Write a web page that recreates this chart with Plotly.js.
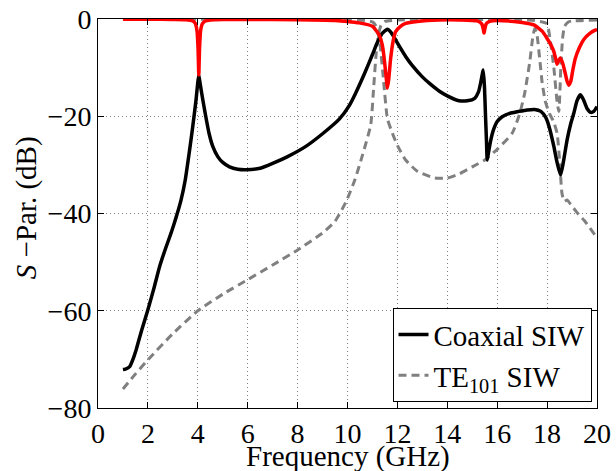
<!DOCTYPE html>
<html>
<head>
<meta charset="utf-8">
<script src="https://cdn.plot.ly/plotly-3.0.1.min.js"></script>
<style>html,body{margin:0;padding:0;background:#fff;}#chart{width:616px;height:471px;}</style>
</head>
<body>
<div id="chart"></div>
<script>
// Coaxial SIW reflection (black)
const coaxS11X = [1.0,1.1,1.27,1.4,1.53,1.75,2.0,2.25,2.47,2.7,2.93,3.13,3.33,3.5,3.67,3.8,3.93,3.99,4.04,4.1,4.2,4.3,4.45,4.6,4.8,5.0,5.27,5.6,5.93,6.5,7.0,7.6,8.33,9.0,9.67,10.07,10.33,10.7,11.0,11.2,11.4,11.6,11.75,11.93,12.1,12.33,12.6,13.0,13.3,13.67,14.0,14.47,14.8,15.1,15.25,15.35,15.44,15.49,15.53,15.57,15.6,15.65,15.73,15.85,16.0,16.2,16.5,16.87,17.2,17.5,17.75,17.95,18.1,18.27,18.4,18.54,18.65,18.8,18.95,19.07,19.2,19.33,19.45,19.6,19.75,19.87,20.0];
const coaxS11Y = [-72.1,-72.0,-71.5,-70.0,-68.0,-64.0,-59.8,-55.2,-50.9,-47.3,-44.0,-40.8,-37.2,-33.0,-27.0,-22.0,-16.6,-13.5,-11.5,-13.5,-16.6,-19.5,-23.5,-26.2,-28.3,-29.5,-30.4,-30.9,-31.0,-30.7,-29.7,-28.3,-26.2,-23.6,-20.6,-17.8,-15.2,-11.0,-7.3,-4.8,-2.9,-2.1,-2.8,-4.3,-5.8,-7.7,-9.6,-11.9,-13.3,-14.8,-15.8,-16.8,-16.8,-16.3,-15.0,-12.8,-10.5,-14.0,-19.7,-25.0,-29.0,-27.5,-25.2,-22.8,-21.1,-20.1,-19.4,-19.0,-18.7,-18.6,-19.0,-20.3,-22.5,-26.2,-29.5,-32.1,-29.5,-24.9,-21.5,-19.4,-16.8,-15.6,-16.5,-18.4,-19.2,-19.0,-18.0];

// Coaxial SIW transmission (red)
const coaxS21X = [1.0,2.0,3.0,3.5,3.8,3.9,3.97,4.01,4.04,4.07,4.11,4.18,4.3,4.5,5.0,6.0,8.0,9.5,10.0,10.47,11.0,11.27,11.4,11.47,11.55,11.6,11.65,11.73,11.83,11.93,12.1,12.33,12.8,13.67,14.5,15.2,15.38,15.44,15.47,15.5,15.56,15.7,16.0,16.67,17.0,17.47,17.8,18.0,18.15,18.27,18.35,18.4,18.47,18.53,18.62,18.72,18.8,18.87,18.95,19.03,19.13,19.3,19.47,19.7,19.93,20.0];
const coaxS21Y = [-0.05,-0.05,-0.1,-0.15,-0.4,-0.9,-2.5,-6.0,-11.5,-6.0,-2.5,-1.0,-0.4,-0.2,-0.1,-0.1,-0.15,-0.3,-0.5,-0.8,-1.5,-3.3,-5.5,-8.1,-12.0,-14.2,-12.5,-8.1,-4.5,-2.6,-1.6,-0.9,-0.5,-0.2,-0.2,-0.4,-1.0,-2.0,-2.9,-2.2,-1.0,-0.5,-0.3,-0.5,-0.7,-1.2,-2.5,-4.0,-5.3,-6.7,-8.3,-9.3,-8.5,-8.0,-9.0,-11.0,-12.8,-13.6,-12.8,-10.5,-8.1,-5.8,-4.2,-3.0,-2.3,-2.2];

// TE101 SIW transmission (grey dashed, rising)
const teS21X = [1.0,1.5,2.0,3.0,4.0,5.0,6.0,7.0,8.0,9.0,9.5,9.95,10.3,10.6,10.93,11.05,11.15,11.25,11.35,11.5,12.0,14.0,16.0,17.0,17.5,17.8,18.0,18.13,18.27,18.4,18.47,18.55,18.62,18.7,18.85,19.0,20.0];
const teS21Y = [-76.1,-73.0,-70.1,-64.7,-60.0,-56.6,-53.6,-50.6,-47.5,-44.0,-41.6,-37.5,-33.0,-28.0,-21.8,-14.0,-7.0,-3.0,-1.2,-0.5,-0.2,-0.1,-0.1,-0.2,-0.3,-0.6,-1.0,-4.5,-10.0,-17.0,-19.0,-10.0,-4.0,-1.5,-0.6,-0.4,-0.2];

// TE101 SIW reflection (grey dashed, falling)
const teS11X = [1.0,5.0,9.0,10.0,10.7,11.0,11.15,11.3,11.45,11.6,11.8,12.0,12.33,12.8,13.5,14.0,14.5,15.0,15.5,16.0,16.6,16.9,17.1,17.3,17.42,17.5,17.58,17.7,17.8,17.93,18.1,18.25,18.4,18.5,18.6,18.7,18.8,19.0,19.33,19.5,20.0];
const teS11Y = [-0.02,-0.03,-0.08,-0.15,-0.3,-0.6,-1.5,-5.0,-13.0,-20.5,-23.5,-26.0,-29.0,-31.3,-32.7,-32.7,-31.8,-30.4,-29.0,-26.8,-23.5,-19.5,-15.3,-9.0,-4.0,-2.0,-2.8,-8.0,-13.0,-17.0,-19.5,-21.0,-23.5,-29.0,-36.0,-37.5,-37.2,-38.5,-40.6,-41.5,-45.0];

const xTicks = [0,2,4,6,8,10,12,14,16,18,20];
const yTicks = [-80,-60,-40,-20,0];
const xTitle = 'Frequency (GHz)';
const yTitle = '<i>S</i> \u2212Par. (dB)';

const FONT = 'Liberation Serif';
const GREY = '#808080';

const traces = [
  {x: teS21X, y: teS21Y, mode: 'lines', name: 'TE<sub>101</sub> SIW', legendgroup: 'te', legendrank: 2,
   line: {color: GREY, width: 3, dash: '8px,5px', shape: 'spline', smoothing: 0.5}},
  {x: teS11X, y: teS11Y, mode: 'lines', name: 'TE101 S11', legendgroup: 'te', showlegend: false,
   line: {color: GREY, width: 3, dash: '8px,5px', shape: 'spline', smoothing: 0.5}},
  {x: coaxS11X, y: coaxS11Y, mode: 'lines', name: 'Coaxial SIW', legendgroup: 'coax', legendrank: 1,
   line: {color: '#000000', width: 3.5, shape: 'spline', smoothing: 0.5}},
  {x: coaxS21X, y: coaxS21Y, mode: 'lines', name: 'Coaxial S21', showlegend: false,
   line: {color: '#ff0000', width: 3.5, shape: 'spline', smoothing: 0.5}}
];

const axisCommon = {
  showline: true, linecolor: '#000', linewidth: 1, mirror: 'ticks',
  ticks: 'inside', ticklen: 6, tickcolor: '#000', tickwidth: 1,
  showgrid: true, gridcolor: '#808080', griddash: '1px,3px', gridwidth: 1,
  zeroline: false, tickfont: {family: FONT, size: 28, color: '#000'}
};

const layout = {
  width: 616, height: 471,
  margin: {l: 98, r: 19, t: 19, b: 63},
  paper_bgcolor: '#fff', plot_bgcolor: '#fff',
  font: {family: FONT, color: '#000'},
  xaxis: Object.assign({}, axisCommon, {
    range: [0, 20], tickvals: xTicks, ticktext: xTicks.map(String)
  }),
  yaxis: Object.assign({}, axisCommon, {
    range: [-80, 0], tickvals: yTicks
  }),
  annotations: [
    {text: xTitle, xref: 'paper', yref: 'paper', x: 0.5, y: -0.124,
     xanchor: 'center', yanchor: 'middle', showarrow: false,
     font: {family: FONT, size: 29, color: '#000'}},
    {text: yTitle, xref: 'paper', yref: 'paper', x: -0.144, y: 0.514, textangle: -90,
     xanchor: 'center', yanchor: 'middle', showarrow: false,
     font: {family: FONT, size: 29, color: '#000'}}
  ],
  showlegend: true,
  legend: {
    x: 0.989, y: 0.015, xanchor: 'right', yanchor: 'bottom',
    bgcolor: '#fff', bordercolor: '#000', borderwidth: 1,
    font: {family: FONT, size: 29, color: '#000'},
    tracegroupgap: 0
  }
};

Plotly.newPlot('chart', traces, layout, {displayModeBar: false, staticPlot: true});
</script>
</body>
</html>
